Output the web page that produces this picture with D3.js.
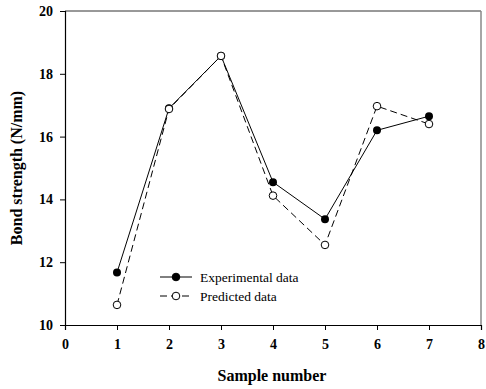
<!DOCTYPE html>
<html>
<head>
<meta charset="utf-8">
<script src="https://cdn.jsdelivr.net/npm/d3@7"></script>
<style>
  body { margin: 0; background: #fff; }
</style>
</head>
<body>
<svg id="chart" width="486" height="389"></svg>
<script>
const samples = [1, 2, 3, 4, 5, 6, 7];
const experimental = [11.67, 16.9, 18.57, 14.55, 13.37, 16.2, 16.65];
const predicted = [10.64, 16.88, 18.57, 14.12, 12.55, 16.97, 16.4];
const xTicks = [0, 1, 2, 3, 4, 5, 6, 7, 8];
const yTicks = [10, 12, 14, 16, 18, 20];

const FONT = '"Liberation Serif", "Times New Roman", serif';
const svg = d3.select('#chart');
const m = { l: 65, r: 5, t: 11, b: 64 };
const W = 486, H = 389;
const x = d3.scaleLinear().domain([0, 8]).range([m.l, W - m.r]);
const y = d3.scaleLinear().domain([10, 20]).range([H - m.b, m.t]);

// frame (top + right)
svg.append('line').attr('x1', x(0)).attr('x2', x(8)).attr('y1', y(20)).attr('y2', y(20))
  .attr('stroke', '#333').attr('stroke-width', 1);
svg.append('line').attr('x1', x(8)).attr('x2', x(8)).attr('y1', y(20)).attr('y2', y(10))
  .attr('stroke', '#888').attr('stroke-width', 1.5);

const xAxis = svg.append('g').attr('transform', `translate(0,${y(10)})`)
  .call(d3.axisBottom(x).tickValues(xTicks).tickFormat(d3.format('d')).tickSizeOuter(0).tickSize(5).tickPadding(9));
const yAxis = svg.append('g').attr('transform', `translate(${x(0)},0)`)
  .call(d3.axisLeft(y).tickValues(yTicks).tickFormat(d3.format('d')).tickSizeOuter(0).tickSize(5).tickPadding(7));
[xAxis, yAxis].forEach((g) => {
  g.select('.domain').attr('stroke', '#000').attr('stroke-width', 1.2);
  g.selectAll('.tick line').attr('stroke', '#000');
  g.selectAll('text').style('font-family', FONT).style('font-size', '14px')
    .style('font-weight', 'bold').attr('fill', '#000');
});

svg.append('text').attr('x', 272).attr('y', 381).attr('text-anchor', 'middle')
  .style('font-family', FONT).style('font-size', '16px').style('font-weight', 'bold')
  .text('Sample number');
svg.append('text').attr('transform', `translate(22,${(y(10) + y(20)) / 2}) rotate(-90)`)
  .attr('text-anchor', 'middle')
  .style('font-family', FONT).style('font-size', '16px').style('font-weight', 'bold')
  .text('Bond strength (N/mm)');

const line = d3.line().x((d, i) => x(samples[i])).y((d) => y(d));

svg.append('path').datum(predicted).attr('d', line).attr('fill', 'none')
  .attr('stroke', '#000').attr('stroke-width', 1).attr('stroke-dasharray', '7,4');
svg.append('path').datum(experimental).attr('d', line).attr('fill', 'none')
  .attr('stroke', '#000').attr('stroke-width', 1);

svg.append('g').selectAll('circle').data(experimental).join('circle')
  .attr('cx', (d, i) => x(samples[i])).attr('cy', (d) => y(d)).attr('r', 4).attr('fill', '#000');
svg.append('g').selectAll('circle').data(predicted).join('circle')
  .attr('cx', (d, i) => x(samples[i])).attr('cy', (d) => y(d)).attr('r', 3.8)
  .attr('fill', '#fff').attr('stroke', '#000').attr('stroke-width', 1);

// legend
const legend = [
  { label: 'Experimental data', dash: null, fill: '#000', yy: 277 },
  { label: 'Predicted data', dash: '7,4', fill: '#fff', yy: 296 },
];
const lg = svg.append('g');
legend.forEach((d) => {
  lg.append('line').attr('x1', 160).attr('x2', 192).attr('y1', d.yy).attr('y2', d.yy)
    .attr('stroke', '#000').attr('stroke-dasharray', d.dash);
  lg.append('circle').attr('cx', 176).attr('cy', d.yy).attr('r', 3.8)
    .attr('fill', d.fill).attr('stroke', '#000');
  lg.append('text').attr('x', 200).attr('y', d.yy + 4.5)
    .style('font-family', FONT).style('font-size', '13.5px').text(d.label);
});
</script>
</body>
</html>
